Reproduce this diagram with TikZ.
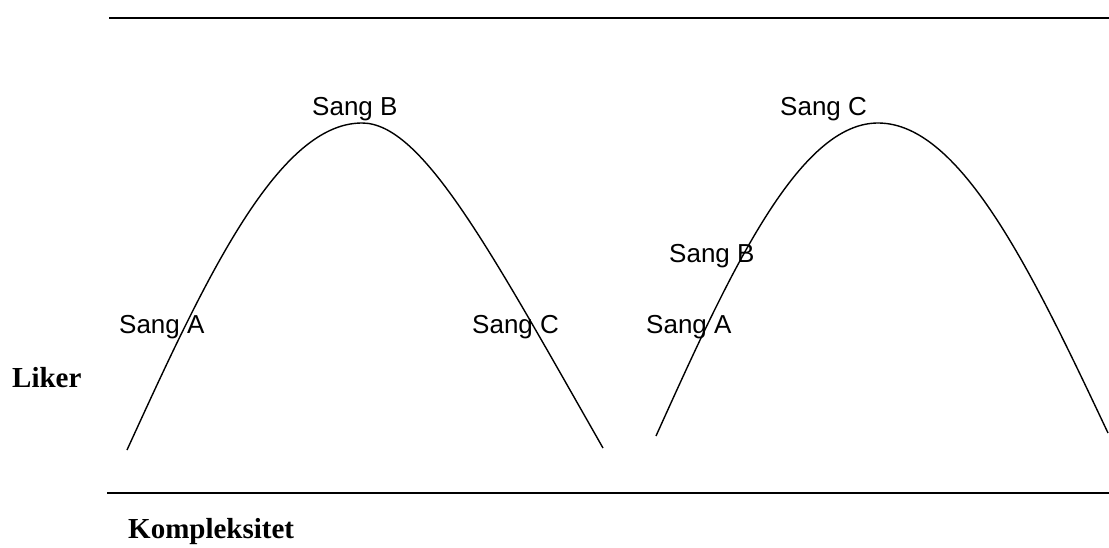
\documentclass[tikz,border=0pt]{standalone}
\usepackage{fontspec}
\setmainfont{Liberation Serif}
\newfontfamily\labelfont{Liberation Sans}
\begin{document}
\begin{tikzpicture}[x=1pt,y=-1pt,
  songlabel/.style={anchor=base west,inner sep=0pt,font=\labelfont\fontsize{26}{30}\selectfont},
  axislabel/.style={anchor=base west,inner sep=0pt,font=\bfseries\fontsize{29}{33}\selectfont},
  rule/.style={line width=2pt},
  hump/.style={line width=1.4pt,samples=80,smooth}]
\useasboundingbox (0,0) rectangle (1109,548);
% horizontal rules
\coordinate (t1) at (109,18);
\coordinate (t2) at (1109,18);
\coordinate (b1) at (107,493);
\coordinate (b2) at (1109,493);
\draw[rule] (t1) -- (t2);
\draw[rule] (b1) -- (b2);
% first curve
\coordinate (p1top) at (362,123);
\coordinate (p1end) at (603,448);
\draw[hump,domain=127:362] plot (\x,{450-327*cos((\x-362)/235*90)});
\draw[hump] (p1top) .. controls (422,123) and (489,248) .. (p1end);
% second curve
\draw[hump,domain=656:878] plot (\x,{436-313*cos((\x-878)/222*90)});
\draw[hump,domain=878:1108] plot (\x,{433-310*cos((\x-878)/230*90)});
% labels
\node[axislabel] (liker) at (12,387) {Liker};
\node[axislabel] (komp) at (128,538) {Kompleksitet};
\node[songlabel] (b1lab) at (312,116) {Sang B};
\node[songlabel] (a1lab) at (119,334) {Sang A};
\node[songlabel] (c1lab) at (472,334) {Sang C};
\node[songlabel] (c2lab) at (780,116) {Sang C};
\node[songlabel] (b2lab) at (669,262) {Sang B};
\node[songlabel] (a2lab) at (646,333) {Sang A};
\end{tikzpicture}
\end{document}
